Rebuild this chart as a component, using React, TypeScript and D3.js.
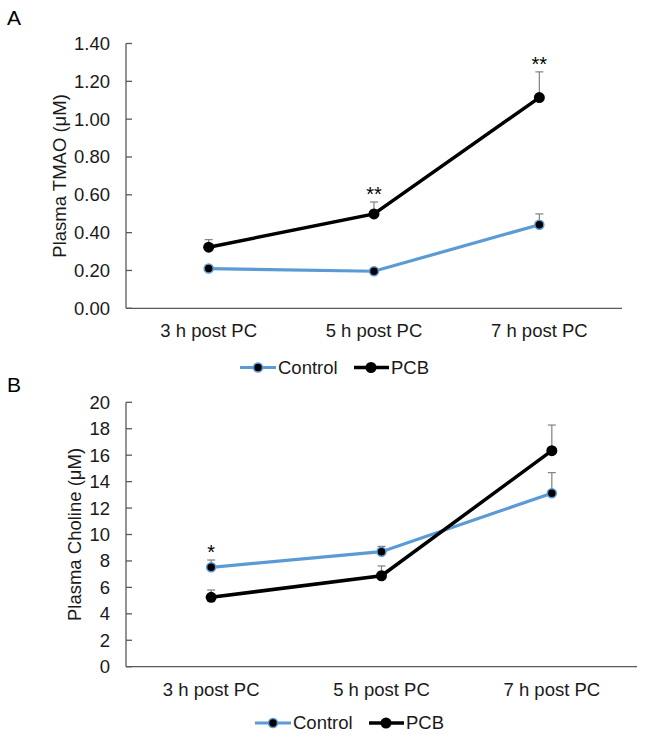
import React from "react";
import * as d3 from "d3";

const categories = ["3 h post PC", "5 h post PC", "7 h post PC"];
const seriesNames = ["Control", "PCB"];

const tmaoControl = [0.21, 0.196, 0.442];
const tmaoControlErr = [0.01, 0.01, 0.057];
const tmaoPCB = [0.323, 0.499, 1.114];
const tmaoPCBErr = [0.04, 0.063, 0.136];
const tmaoStars = ["", "**", "**"];
const tmaoTicks = [0, 0.2, 0.4, 0.6, 0.8, 1.0, 1.2, 1.4];

const cholControl = [7.52, 8.7, 13.12];
const cholControlErr = [0.55, 0.4, 1.56];
const cholPCB = [5.25, 6.88, 16.34];
const cholPCBErr = [0.55, 0.74, 1.94];
const cholStars = ["*", "", ""];
const cholTicks = [0, 2, 4, 6, 8, 10, 12, 14, 16, 18, 20];

const FONT = "'Liberation Sans', Arial, Helvetica, sans-serif";
const BLUE = "#5B9BD5";
const AXIS = "#595959";
const ERR = "#808080";
const TEXT = "#1a1a1a";

type PanelProps = {
  letter: string;
  letterY: number;
  yLabel: string;
  yLabelX: number;
  control: number[];
  controlErr: number[];
  pcb: number[];
  pcbErr: number[];
  stars: string[];
  ticks: number[];
  fmt: (v: number) => string;
  yDomain: [number, number];
  yRange: [number, number];
  xRange: [number, number];
  legendY: number;
  legendX: number;
};

function Panel(p: PanelProps) {
  const x = d3.scaleBand<string>().domain(categories).range(p.xRange).padding(0);
  const y = d3.scaleLinear().domain(p.yDomain).range(p.yRange);
  const cx = (c: string) => (x(c) as number) + x.bandwidth() / 2;
  const line = d3
    .line<number>()
    .x((_, i) => cx(categories[i]))
    .y((d) => y(d));
  const axisX = p.xRange[0];
  const bottom = p.yRange[0];
  const errBars = (vals: number[], errs: number[], key: string) =>
    vals.map((v, i) => {
      const xc = cx(categories[i]);
      const top = y(v + errs[i]);
      return (
        <g key={key + i} stroke={ERR} strokeWidth={1.2}>
          <line x1={xc} x2={xc} y1={y(v)} y2={top} />
          <line x1={xc - 4} x2={xc + 4} y1={top} y2={top} />
        </g>
      );
    });
  const starY = (i: number) =>
    Math.min(y(p.control[i] + p.controlErr[i]), y(p.pcb[i] + p.pcbErr[i])) - 1;
  const lx = p.legendX;
  return (
    <g fontFamily={FONT}>
      <text x={7} y={p.letterY} fontSize={21} fill="#000">
        {p.letter}
      </text>
      {p.ticks.map((t) => (
        <g key={t}>
          <line x1={axisX} x2={axisX + 6} y1={y(t)} y2={y(t)} stroke={AXIS} strokeWidth={1.3} />
          <text x={axisX - 16} y={y(t)} dy="0.35em" textAnchor="end" fontSize={18.5} fill={TEXT}>
            {p.fmt(t)}
          </text>
        </g>
      ))}
      <line x1={axisX} x2={axisX} y1={p.yRange[1]} y2={bottom} stroke={AXIS} strokeWidth={1.3} />
      <line x1={p.xRange[0]} x2={p.xRange[1]} y1={bottom} y2={bottom} stroke={AXIS} strokeWidth={1.3} />
      {categories.map((c) => (
        <text key={c} x={cx(c)} y={bottom + 29} textAnchor="middle" fontSize={18.5} fill={TEXT}>
          {c}
        </text>
      ))}
      <text
        transform={`translate(${p.yLabelX},${(p.yRange[0] + p.yRange[1]) / 2}) rotate(-90)`}
        textAnchor="middle"
        dy="0.35em"
        fontSize={18.5}
        fill={TEXT}
      >
        {p.yLabel}
      </text>
      {errBars(p.control, p.controlErr, "ce")}
      {errBars(p.pcb, p.pcbErr, "pe")}
      <path d={line(p.control) || ""} fill="none" stroke={BLUE} strokeWidth={3.2} />
      {p.control.map((v, i) => (
        <circle key={"cm" + i} cx={cx(categories[i])} cy={y(v)} r={4.5} fill="#000" stroke={BLUE} strokeWidth={1.5} />
      ))}
      <path d={line(p.pcb) || ""} fill="none" stroke="#000" strokeWidth={3.5} />
      {p.pcb.map((v, i) => (
        <circle key={"pm" + i} cx={cx(categories[i])} cy={y(v)} r={5.5} fill="#000" />
      ))}
      {p.stars.map((s, i) =>
        s ? (
          <text key={"s" + i} x={cx(categories[i])} y={starY(i)} textAnchor="middle" fontSize={20} fill="#000">
            {s}
          </text>
        ) : null
      )}
      <g>
        <line x1={lx} x2={lx + 36} y1={p.legendY} y2={p.legendY} stroke={BLUE} strokeWidth={3.2} />
        <circle cx={lx + 18} cy={p.legendY} r={4.5} fill="#000" stroke={BLUE} strokeWidth={1.5} />
        <text x={lx + 38} y={p.legendY} dy="0.35em" fontSize={18.5} fill={TEXT}>
          {seriesNames[0]}
        </text>
        <line x1={lx + 114} x2={lx + 149} y1={p.legendY} y2={p.legendY} stroke="#000" strokeWidth={3.5} />
        <circle cx={lx + 131} cy={p.legendY} r={5.5} fill="#000" />
        <text x={lx + 151} y={p.legendY} dy="0.35em" fontSize={18.5} fill={TEXT}>
          {seriesNames[1]}
        </text>
      </g>
    </g>
  );
}

export default function App() {
  return (
    <svg
      width={645}
      height={740}
      style={{ position: "absolute", left: 0, top: 0, background: "#fff" }}
    >
      <rect width={645} height={740} fill="#fff" />
      <Panel
        letter="A"
        letterY={25}
        yLabel="Plasma TMAO (μM)"
        yLabelX={60}
        control={tmaoControl}
        controlErr={tmaoControlErr}
        pcb={tmaoPCB}
        pcbErr={tmaoPCBErr}
        stars={tmaoStars}
        ticks={tmaoTicks}
        fmt={d3.format(".2f")}
        yDomain={[0, 1.4]}
        yRange={[308.3, 43.5]}
        xRange={[126, 622]}
        legendY={367.5}
        legendX={240}
      />
      <Panel
        letter="B"
        letterY={392}
        yLabel="Plasma Choline (μM)"
        yLabelX={75}
        control={cholControl}
        controlErr={cholControlErr}
        pcb={cholPCB}
        pcbErr={cholPCBErr}
        stars={cholStars}
        ticks={cholTicks}
        fmt={d3.format("d")}
        yDomain={[0, 20]}
        yRange={[666.7, 402.3]}
        xRange={[126, 637]}
        legendY={723}
        legendX={255}
      />
    </svg>
  );
}
